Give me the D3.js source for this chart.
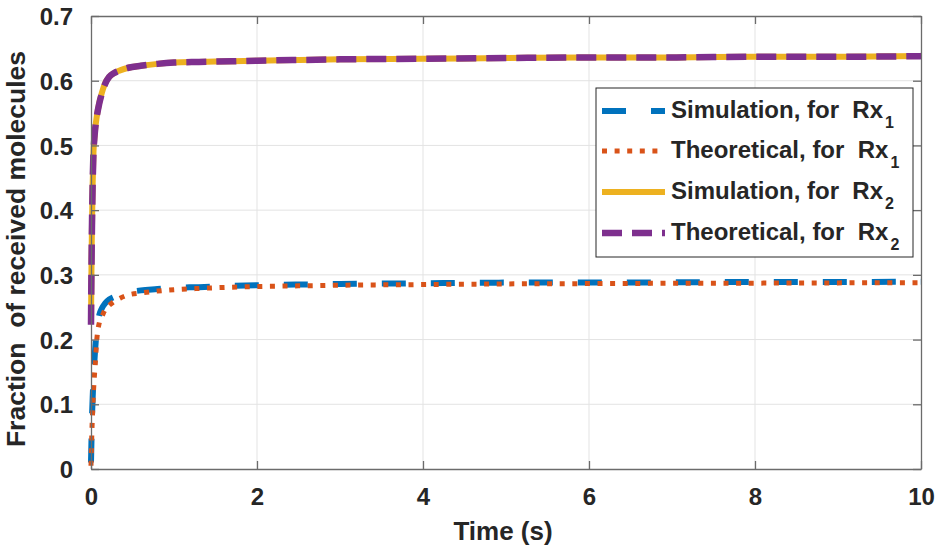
<!DOCTYPE html>
<html lang="en">
<head>
    <meta charset="UTF-8">
    <title>Fraction of received molecules</title>
    <script src="https://d3js.org/d3.v7.min.js"></script>
    <style>
        body { margin: 0; background: #fff; }
        text { font-family: "Liberation Sans", Arial, sans-serif; font-weight: bold; fill: #262626; }
    </style>
</head>
<body>
    <div id="container"></div>
    <script>
        // Data
        const time = [0, 0.005, 0.01, 0.02, 0.03, 0.04, 0.05, 0.07, 0.1, 0.13, 0.17, 0.22, 0.28, 0.35, 0.45,
                      0.6, 0.8, 1, 1.3, 1.7, 2, 2.5, 3, 4, 5, 6, 7, 8, 9, 10];
        const simRx1 = [0.01, 0.04, 0.07, 0.11, 0.14, 0.165, 0.185, 0.215, 0.238, 0.248, 0.256, 0.262, 0.266, 0.27, 0.273,
                        0.276, 0.278, 0.28, 0.281, 0.283, 0.284, 0.285, 0.286, 0.287, 0.288, 0.288, 0.2885, 0.289, 0.289, 0.2895];
        const theoRx1 = [0.005, 0.03, 0.055, 0.09, 0.12, 0.142, 0.16, 0.2, 0.226, 0.235, 0.246, 0.253, 0.259, 0.264, 0.269,
                         0.272, 0.275, 0.277, 0.279, 0.281, 0.282, 0.283, 0.284, 0.285, 0.286, 0.2865, 0.287, 0.2872, 0.2876, 0.288];
        const simRx2 = [0.225, 0.30, 0.36, 0.44, 0.49, 0.51, 0.525, 0.545, 0.566, 0.581, 0.596, 0.606, 0.612, 0.616, 0.62,
                        0.623, 0.626, 0.628, 0.629, 0.63, 0.631, 0.632, 0.633, 0.634, 0.635, 0.636, 0.636, 0.637, 0.637, 0.638];
        const theoRx2 = [0.223, 0.30, 0.36, 0.44, 0.49, 0.51, 0.525, 0.545, 0.565, 0.58, 0.595, 0.606, 0.612, 0.616, 0.62,
                         0.623, 0.626, 0.628, 0.629, 0.63, 0.631, 0.632, 0.633, 0.634, 0.635, 0.636, 0.636, 0.637, 0.637, 0.638];
        const xTicks = [0, 2, 4, 6, 8, 10];
        const yTicks = [0, 0.1, 0.2, 0.3, 0.4, 0.5, 0.6, 0.7];
        const legendLabels = ["Simulation, for  Rx", "Theoretical, for  Rx", "Simulation, for  Rx", "Theoretical, for  Rx"];
        const legendSubs = ["1", "1", "2", "2"];

        // Styles of the four series
        const series = [
            { values: simRx1,  color: "#0072BD", width: 6,   dash: "24,25" },
            { values: theoRx1, color: "#D95319", width: 5,   dash: "5,7.6" },
            { values: simRx2,  color: "#EDB120", width: 6,   dash: null },
            { values: theoRx2, color: "#7E2F8E", width: 6.5, dash: "20,10" }
        ];

        // Dimensions
        const W = 938, H = 546;
        const marginTop = 16, marginLeft = 91, marginRight = 17, marginBottom = 77;
        const width = W - marginLeft - marginRight;
        const height = H - marginTop - marginBottom;

        const svg = d3.select("#container")
                      .append("svg")
                      .attr("width", W)
                      .attr("height", H);
        const g = svg.append("g")
                     .attr("transform", `translate(${marginLeft},${marginTop})`);

        // Scales
        const x = d3.scaleLinear().domain([0, 10]).range([0, width]);
        const y = d3.scaleLinear().domain([0, 0.7]).range([height, 0]);

        // Grid
        g.append("g")
         .attr("stroke", "#e3e3e3")
         .attr("stroke-width", 1)
         .call(gg => gg.selectAll(".gx")
                       .data(xTicks.slice(1, -1))
                       .join("line")
                       .attr("x1", d => x(d)).attr("x2", d => x(d))
                       .attr("y1", 0).attr("y2", height))
         .call(gg => gg.selectAll(".gy")
                       .data(yTicks.slice(1, -1))
                       .join("line")
                       .attr("y1", d => y(d)).attr("y2", d => y(d))
                       .attr("x1", 0).attr("x2", width));

        // Lines
        const line = d3.line()
                       .x((d, i) => x(time[i]))
                       .y(d => y(d))
                       .curve(d3.curveMonotoneX);

        g.append("g")
         .selectAll("path")
         .data(series)
         .join("path")
         .attr("fill", "none")
         .attr("stroke", d => d.color)
         .attr("stroke-width", d => d.width)
         .attr("stroke-dasharray", d => d.dash)
         .attr("d", d => line(d.values));

        // Axes (MATLAB-style box with inward ticks)
        const axisColor = "#6b6b6b";
        const tickLen = 8;
        const xAxis = d3.axisBottom(x).tickValues(xTicks).tickSizeInner(-tickLen).tickSizeOuter(0).tickPadding(19);
        const yAxis = d3.axisLeft(y).tickValues(yTicks).tickSizeInner(-tickLen).tickSizeOuter(0).tickPadding(18)
                        .tickFormat(d => d === 0 ? "0" : d3.format(".1f")(d));
        const xAxisTop = d3.axisTop(x).tickValues(xTicks).tickSizeInner(-tickLen).tickSizeOuter(0).tickFormat("");
        const yAxisRight = d3.axisRight(y).tickValues(yTicks).tickSizeInner(-tickLen).tickSizeOuter(0).tickFormat("");

        function styleAxis(sel) {
            sel.select(".domain").attr("stroke", axisColor).attr("stroke-width", 1.3);
            sel.selectAll(".tick line").attr("stroke", axisColor).attr("stroke-width", 1.3);
            sel.selectAll(".tick text").attr("font-size", 24).attr("fill", "#262626")
               .style("font-family", "'Liberation Sans', Arial, sans-serif").style("font-weight", "bold");
        }

        g.append("g").attr("transform", `translate(0,${height})`).call(xAxis).call(styleAxis)
         .selectAll(".tick text").attr("dy", "0.71em");
        g.append("g").call(yAxis).call(styleAxis)
         .selectAll(".tick text").attr("dy", "0.36em");
        g.append("g").call(xAxisTop).call(styleAxis);
        g.append("g").attr("transform", `translate(${width},0)`).call(yAxisRight).call(styleAxis);

        // Axis titles
        svg.append("text")
           .attr("x", 503)
           .attr("y", 540)
           .attr("text-anchor", "middle")
           .attr("font-size", 26)
           .text("Time (s)");

        svg.append("text")
           .attr("transform", "translate(25,249) rotate(-90)")
           .attr("text-anchor", "middle")
           .attr("font-size", 26.5)
           .style("white-space", "pre")
           .text("Fraction  of received molecules");

        // Legend
        const lgX = 596, lgY = 88, lgW = 317, lgH = 169;
        const legend = svg.append("g");
        legend.append("rect")
              .attr("x", lgX).attr("y", lgY)
              .attr("width", lgW).attr("height", lgH)
              .attr("fill", "#fff")
              .attr("stroke", "#262626")
              .attr("stroke-width", 1);

        const rowY = [111, 151, 192, 233];
        const rows = legend.selectAll(".row")
                           .data(series)
                           .join("g")
                           .attr("transform", (d, i) => `translate(0,${rowY[i]})`);
        rows.append("line")
            .attr("x1", 602).attr("x2", 665)
            .attr("y1", 0).attr("y2", 0)
            .attr("stroke", d => d.color)
            .attr("stroke-width", d => d.width)
            .attr("stroke-dasharray", d => d.dash);
        const txt = rows.append("text")
                        .attr("x", 671)
                        .attr("y", 7)
                        .attr("font-size", 24)
                        .style("white-space", "pre");
        txt.append("tspan").text((d, i) => legendLabels[i]);
        txt.append("tspan")
           .attr("dy", 10)
           .attr("dx", 2)
           .attr("font-size", 16)
           .text((d, i) => legendSubs[i]);
    </script>
</body>
</html>
